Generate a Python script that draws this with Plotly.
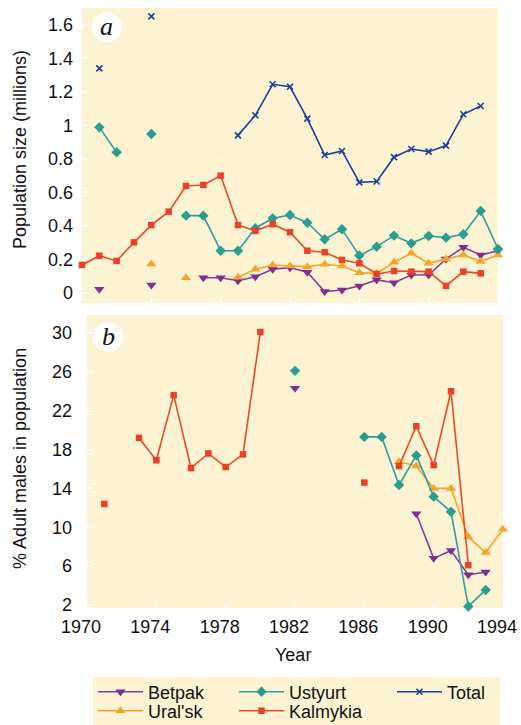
import plotly.graph_objects as go

# ---------------- data ----------------
years = list(range(1970, 1995))

# Panel a: population size (millions)
total_a = [None, 1.34, None, None, 1.65, None, None, None, None, 0.94, 1.06, 1.245, 1.23, 1.04,
           0.823, 0.847, 0.66, 0.665, 0.81, 0.859, 0.843, 0.879, 1.066, 1.115, None]
ustyurt_a = [None, 0.988, 0.839, None, 0.948, None, 0.461, 0.461, 0.252, 0.252, 0.386, 0.445, 0.465,
             0.419, 0.32, 0.38, 0.223, 0.276, 0.342, 0.296, 0.34, 0.33, 0.35, 0.489, 0.262]
kalmykia_a = [0.167, 0.222, 0.191, 0.302, 0.405, 0.485, 0.638, 0.644, 0.70, 0.405, 0.37, 0.41, 0.362,
              0.252, 0.243, 0.197, 0.177, 0.113, 0.131, 0.127, 0.127, 0.042, 0.127, 0.117, None]
uralsk_a = [None, None, None, None, 0.173, None, 0.091, None, None, 0.094, 0.141, 0.167, 0.161,
            0.157, 0.171, 0.161, 0.121, 0.117, 0.183, 0.237, 0.177, 0.203, 0.227, 0.187, 0.227]
betpak_a = [None, 0.022, None, None, 0.048, None, None, 0.091, 0.091, 0.073, 0.097, 0.141, 0.151,
            0.123, 0.008, 0.018, 0.042, 0.078, 0.061, 0.107, 0.107, 0.203, 0.272, 0.227, 0.25]

# Panel b: % adult males in population
kalmykia_b = [None, 12.4, None, 19.2, 16.9, 23.6, 16.1, 17.6, 16.2, 17.5, 30.1, None, None, None,
              None, None, 14.6, None, 16.3, 20.4, 16.4, 24.0, 6.1, None, None]
ustyurt_b = [None, None, None, None, None, None, None, None, None, None, None, None, 26.1, None,
             None, None, 19.3, 19.3, 14.35, 17.4, 13.15, 11.6, 1.85, 3.55, None]
betpak_b = [None, None, None, None, None, None, None, None, None, None, None, None, 24.3, None,
            None, None, None, None, None, 11.4, 6.8, 7.6, 5.1, 5.4, None]
uralsk_b = [None, None, None, None, None, None, None, None, None, None, None, None, None, None,
            None, None, None, None, 16.75, 16.3, 14.0, 14.0, 9.0, 7.4, 9.8]

year_ticks = [1970, 1974, 1978, 1982, 1986, 1990, 1994]
pop_ticks = [0, 0.2, 0.4, 0.6, 0.8, 1.0, 1.2, 1.4, 1.6]
pop_ticktext = ["0", "0.2", "0.4", "0.6", "0.8", "1", "1.2", "1.4", "1.6"]
male_ticks = [2, 6, 10, 14, 18, 22, 26, 30]

# ---------------- styling ----------------
W, H = 521, 725
CREAM = "#FBF3D1"
FONT = "Liberation Sans, Arial, sans-serif"

series = [
    # name, panel a data, panel b data, color, line color, symbol, size, legend id, legend pos(px)
    ("Betpak", betpak_a, betpak_b, "#7E2F8E", "#8E3C9A", "triangle-down", 9, "legend", (93, 692)),
    ("Ural'sk", uralsk_a, uralsk_b, "#F6A52B", "#F6A52B", "triangle-up", 9, "legend2", (93, 711)),
    ("Ustyurt", ustyurt_a, ustyurt_b, "#2A9D8C", "#2F9EA6", "diamond", 8, "legend3", (234, 692)),
    ("Kalmykia", kalmykia_a, kalmykia_b, "#EA3F28", "#EA4A2A", "square", 6.5, "legend4", (234, 711)),
    ("Total", total_a, None, "#1E3F9E", "#1E3F9E", "x-thin", 6, "legend5", (392, 692)),
]

def px_x(p):
    return p / W

def px_y(p):
    return (H - p) / H

fig = go.Figure()
legends = {}
for name, da, db, col, lcol, sym, size, leg, (lx, ly) in series:
    marker = dict(symbol=sym, size=size, color=col)
    if sym == "x-thin":
        marker["line"] = dict(width=1.6, color=col)
    fig.add_trace(go.Scatter(
        x=years, y=da, mode="lines+markers", name=name,
        line=dict(color=lcol, width=1.6), marker=marker,
        connectgaps=False, cliponaxis=False, xaxis="x", yaxis="y",
        legendgroup=name, showlegend=True, legend=leg,
    ))
    if db is not None:
        fig.add_trace(go.Scatter(
            x=years, y=db, mode="lines+markers", name=name,
            line=dict(color=lcol, width=1.6), marker=marker,
            connectgaps=False, cliponaxis=False, xaxis="x2", yaxis="y2",
            legendgroup=name, showlegend=False,
        ))
    legends[leg] = dict(
        x=px_x(lx), y=px_y(ly), xanchor="left", yanchor="middle",
        bgcolor="rgba(0,0,0,0)", borderwidth=0,
        font=dict(family=FONT, size=18, color="#111"),
        itemsizing="trace", tracegroupgap=0, itemwidth=45,
    )

axis_common = dict(showgrid=False, zeroline=False, showline=False, automargin=False,
                   ticks="inside", tickcolor="white", ticklen=6, tickwidth=2,
                   tickfont=dict(family=FONT, size=18, color="#111"))

# panel a: plot area x 82-498 px, y 8-303 px
# panel b: plot area x 87-503 px, y 315-608 px
fig.update_layout(
    width=W, height=H, autosize=False,
    margin=dict(l=0, r=0, t=0, b=0, autoexpand=False),
    paper_bgcolor="white", plot_bgcolor=CREAM,
    font=dict(family=FONT, size=18, color="#111"),
    xaxis=dict(domain=[px_x(82), px_x(498)], range=[1970, 1994], anchor="y",
               tickvals=year_ticks, showticklabels=False, **axis_common),
    yaxis=dict(domain=[px_y(303), px_y(8)], range=[-0.06, 1.70], anchor="x",
               tickvals=pop_ticks, ticktext=pop_ticktext, ticklabelstandoff=8,
               **axis_common),
    xaxis2=dict(domain=[px_x(87), px_x(503)], range=[1969.999, 1994.001], anchor="y2",
                tickvals=year_ticks, ticklabelstandoff=6, ticklabelshift=-6, **axis_common),
    yaxis2=dict(domain=[px_y(608), px_y(315)], range=[1.69, 31.85], anchor="x2",
                tickvals=male_ticks, ticklabelstandoff=14, **axis_common),
    **legends,
    shapes=[
        # legend box
        dict(type="rect", xref="paper", yref="paper",
             x0=px_x(93), x1=px_x(500), y0=px_y(725), y1=px_y(677),
             fillcolor=CREAM, line=dict(width=0), layer="below"),
        # panel label discs
        dict(type="circle", xref="paper", yref="paper",
             x0=px_x(92), x1=px_x(122), y0=px_y(42), y1=px_y(12),
             fillcolor="white", line=dict(width=0), layer="above"),
        dict(type="circle", xref="paper", yref="paper",
             x0=px_x(93), x1=px_x(123), y0=px_y(352), y1=px_y(322),
             fillcolor="white", line=dict(width=0), layer="above"),
    ],
    annotations=[
        dict(text="Population size (millions)", x=px_x(20), y=px_y(150), xref="paper", yref="paper",
             textangle=-90, showarrow=False, font=dict(family=FONT, size=18, color="#111"),
             xanchor="center", yanchor="middle"),
        dict(text="% Adult males in population", x=px_x(20), y=px_y(459), xref="paper", yref="paper",
             textangle=-90, showarrow=False, font=dict(family=FONT, size=18, color="#111"),
             xanchor="center", yanchor="middle"),
        dict(text="Year", x=px_x(293), y=px_y(655), xref="paper", yref="paper",
             showarrow=False, font=dict(family=FONT, size=18, color="#111"),
             xanchor="center", yanchor="middle"),
        dict(text="<i>a</i>", x=px_x(106), y=px_y(26), xref="paper", yref="paper",
             showarrow=False, font=dict(family="Liberation Serif, serif", size=26, color="#111"),
             xanchor="center", yanchor="middle"),
        dict(text="<i>b</i>", x=px_x(108), y=px_y(336), xref="paper", yref="paper",
             showarrow=False, font=dict(family="Liberation Serif, serif", size=26, color="#111"),
             xanchor="center", yanchor="middle"),
    ],
)

fig.write_html("out.html", config={"displayModeBar": False},
               post_script="document.body.style.margin='0';")
